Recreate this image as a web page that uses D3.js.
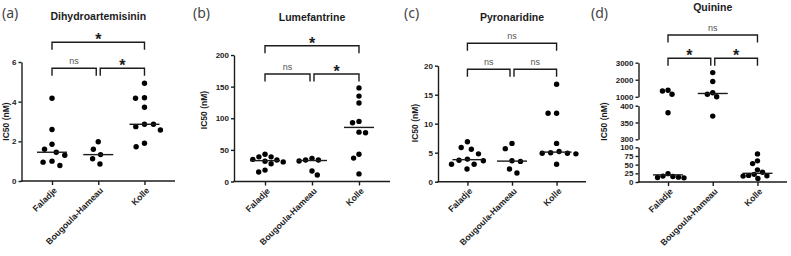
<!DOCTYPE html>
<html><head><meta charset="utf-8">
<script src="https://cdn.jsdelivr.net/npm/d3@7"></script>
<style>body{margin:0;background:#fff}</style>
</head><body><svg id="c" width="791" height="256"></svg>
<script>
// ---------- data ----------
const categories = ["Faladje", "Bougoula-Hameau", "Kolle"];
const dhaValues = [[4.17, 2.6, 1.85, 1.6, 1.45, 1.3, 1.0, 0.95, 0.78], [1.98, 1.6, 1.33, 1.12, 0.86], [4.93, 4.2, 4.17, 3.72, 2.86, 2.86, 2.74, 2.57, 1.9, 1.73]];
const lumValues = [[43, 39, 39, 35, 34, 32, 31, 28, 18, 15], [36.6, 34, 34, 32.4, 16.5, 10.3], [148, 135, 124, 95, 93, 78, 77, 43, 37, 12]];
const pyrValues = [[6.9, 5.9, 5.6, 4.8, 3.9, 3.7, 3.6, 3.0, 3.0, 2.2], [6.6, 5.7, 3.6, 3.5, 2.2, 1.5], [16.8, 11.8, 11.8, 6.6, 5.2, 5.0, 4.9, 4.9, 4.8, 3.0]];
const quiValues = [[1380, 1340, 1150, 379, 24, 17, 16, 14, 13, 12], [2420, 1900, 1240, 1150, 1006, 369], [81, 61, 53, 35, 28, 22, 19, 18, 17, 10]];
const dhaTicks = [0, 2, 4, 6];
const lumTicks = [0, 50, 100, 150, 200];
const pyrTicks = [0, 5, 10, 15, 20];
const quiTicksLow = [0, 25, 50, 75, 100];
const quiTicksMid = [300, 350, 400];
const quiTicksHigh = [1000, 2000, 3000];
// comparisons: [Faladje vs Kolle, Faladje vs Bougoula, Bougoula vs Kolle]
const dhaStats = ["*", "ns", "*"];
const lumStats = ["*", "ns", "*"];
const pyrStats = ["ns", "ns", "ns"];
const quiStats = ["ns", "*", "*"];
const titles = ["Dihydroartemisinin", "Lumefantrine", "Pyronaridine", "Quinine"];
const panelLabels = ["(a)", "(b)", "(c)", "(d)"];
const yTitle = "IC50 (nM)";

// ---------- drawing ----------
const svg = d3.select("#c");
const INK = "#1c1c1c";
const FONT = "'Liberation Sans', Arial, sans-serif";

function swarm(ys, D) {
  const idx = ys.map((y, i) => i).sort((a, b) => ys[a] - ys[b]);
  const placed = [], off = new Array(ys.length);
  let side = -1;
  for (const i of idx) {
    const y = ys[i], ints = [];
    for (const p of placed) {
      const dy = Math.abs(p.y - y);
      if (dy < D) { const w = Math.sqrt(D * D - dy * dy); ints.push([p.x - w, p.x + w]); }
    }
    const cands = [0];
    ints.forEach(([a, b]) => cands.push(a, b));
    const ok = c => ints.every(([a, b]) => c <= a + 1e-6 || c >= b - 1e-6);
    let best = null;
    cands.filter(ok).forEach(c => {
      if (best === null || Math.abs(c) < Math.abs(best) - 1e-6 ||
        (Math.abs(Math.abs(c) - Math.abs(best)) < 1e-6 && c * side > best * side)) best = c;
    });
    if (Math.abs(best) > 1e-6) side = -side;
    off[i] = best; placed.push({ x: best, y });
  }
  return off;
}

function drawPanel(cfg) {
  const g = svg.append("g");
  const x = d3.scalePoint().domain(categories).range([cfg.x0, cfg.x1]).padding(0.66);

  cfg.segments.forEach(seg => {
    const ax = d3.axisLeft(seg.scale).tickValues(seg.ticks).tickSize(3).tickSizeOuter(0).tickFormat(d3.format("d"));
    const a = g.append("g").attr("transform", `translate(${cfg.x0},0)`).call(ax);
    a.select(".domain").attr("stroke", INK).attr("stroke-width", 1.4);
    a.selectAll(".tick line").attr("stroke", INK).attr("stroke-width", 1.4);
    a.selectAll(".tick text").attr("font-family", FONT).attr("font-weight", "bold")
      .attr("font-size", 8).attr("fill", INK).attr("x", -5);
  });
  const yv = cfg.yv;

  const xa = g.append("g").attr("transform", `translate(0,${cfg.y0})`)
    .call(d3.axisBottom(x).tickSize(4).tickSizeOuter(0));
  xa.select(".domain").attr("stroke", INK).attr("stroke-width", 1.4)
    .attr("d", `M${cfg.x0 - 0.7},0H${cfg.x1}`);
  xa.selectAll(".tick line").attr("stroke", INK).attr("stroke-width", 1.4);
  xa.selectAll(".tick text").attr("font-family", FONT).attr("font-weight", "bold")
    .attr("font-size", 8.7).attr("fill", INK)
    .attr("text-anchor", "end").attr("dy", null).attr("y", 0)
    .attr("transform", "translate(5,10) rotate(-45)");

  cfg.values.forEach((vals, ci) => {
    const cx = x(categories[ci]);
    const ys = vals.map(yv);
    const offs = swarm(ys, cfg.D);
    g.selectAll(null).data(vals).enter().append("circle")
      .attr("cx", (d, i) => cx + offs[i]).attr("cy", (d, i) => ys[i])
      .attr("r", 2.7).attr("fill", "#000");
    const m = d3.median(vals);
    g.append("line").attr("x1", cx - 15).attr("x2", cx + 15)
      .attr("y1", yv(m)).attr("y2", yv(m)).attr("stroke", INK).attr("stroke-width", 1.4);
  });

  const c0 = x(categories[0]), c1 = x(categories[1]), c2 = x(categories[2]);
  const br = (xa_, xb_, y, lab) => {
    g.append("path").attr("d", `M${xa_},${y + 7.5}V${y}H${xb_}V${y + 7.5}`)
      .attr("fill", "none").attr("stroke", INK).attr("stroke-width", 1.4);
    const t = g.append("text").attr("x", (xa_ + xb_) / 2).attr("text-anchor", "middle")
      .attr("font-family", FONT).text(lab);
    if (lab === "*") t.attr("y", y + 3).attr("font-size", 16).attr("font-weight", "bold").attr("fill", INK);
    else t.attr("y", y - 4.5).attr("font-size", 9).attr("fill", "#555");
  };
  br(c0, c2, cfg.bTop, cfg.stats[0]);
  br(c0, c1 - 2, cfg.bLow, cfg.stats[1]);
  br(c1 + 2, c2, cfg.bLow, cfg.stats[2]);

  g.append("text").attr("x", (c0 + c2) / 2).attr("y", cfg.titleY).attr("text-anchor", "middle")
    .attr("font-family", FONT).attr("font-weight", "bold").attr("font-size", 10.5).attr("fill", INK)
    .text(cfg.title);
  g.append("text").attr("x", cfg.labX).attr("y", 18).attr("font-family", "'Noto Sans', sans-serif")
    .attr("font-size", 14).attr("fill", "#444").text(cfg.label);
  g.append("text").attr("transform", `translate(${cfg.yLabX},${cfg.yLabY}) rotate(-90)`)
    .attr("text-anchor", "middle").attr("font-family", FONT).attr("font-weight", "bold")
    .attr("font-size", 8.5).attr("fill", INK).text(yTitle);
}

function simple(x0, x1, y0, y1, ticks) {
  const s = d3.scaleLinear().domain([ticks[0], ticks[ticks.length - 1]]).range([y0, y1]);
  return { segments: [{ scale: s, ticks }], yv: s };
}

const A = simple(21.5, 175, 181, 62, dhaTicks);
drawPanel(Object.assign(A, { x0: 21.5, x1: 175, y0: 181, values: dhaValues, stats: dhaStats, D: 9,
  bTop: 42.3, bLow: 68.3, titleY: 19.5, title: titles[0], label: panelLabels[0], labX: 2, yLabX: 9, yLabY: 121.5 }));

const B = simple(234, 390, 181.5, 55, lumTicks);
drawPanel(Object.assign(B, { x0: 234, x1: 390, y0: 181.5, values: lumValues, stats: lumStats, D: 6.6,
  bTop: 45.7, bLow: 74, titleY: 20.5, title: titles[1], label: panelLabels[1], labX: 193, yLabX: 207, yLabY: 110 }));

const C = simple(438, 586, 181.7, 65.7, pyrTicks);
drawPanel(Object.assign(C, { x0: 438, x1: 586, y0: 181.7, values: pyrValues, stats: pyrStats, D: 8.5,
  bTop: 43.3, bLow: 69.3, titleY: 20.5, title: titles[2], label: panelLabels[2], labX: 404, yLabX: 418, yLabY: 123 }));

const qLow = d3.scaleLinear().domain([0, 100]).range([182, 147.3]);
const qMid = d3.scaleLinear().domain([300, 400]).range([139.3, 105.7]);
const qHigh = d3.scaleLinear().domain([1000, 3000]).range([96.8, 62.7]);
const qY = v => v <= 200 ? qLow(v) : (v <= 700 ? qMid(v) : qHigh(v));
drawPanel({ segments: [{ scale: qLow, ticks: quiTicksLow }, { scale: qMid, ticks: quiTicksMid }, { scale: qHigh, ticks: quiTicksHigh }],
  yv: qY, x0: 638.5, x1: 787, y0: 182, values: quiValues, stats: quiStats, D: 5.6,
  bTop: 35, bLow: 58.3, titleY: 10.5, title: titles[3], label: panelLabels[3], labX: 591, yLabX: 607, yLabY: 121.5 });
</script></body></html>
